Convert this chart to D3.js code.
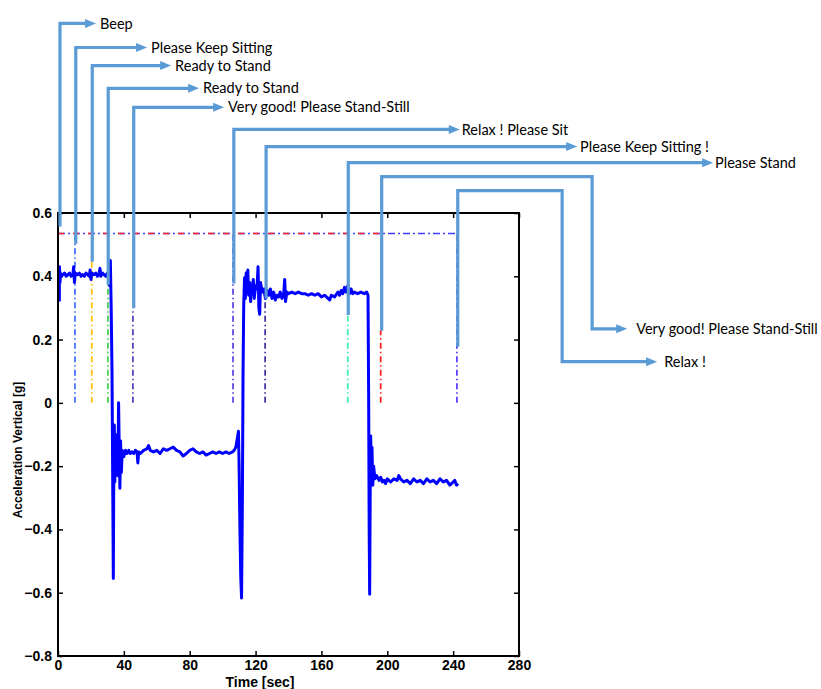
<!DOCTYPE html>
<html>
<head>
<meta charset="utf-8">
<script src="https://cdn.jsdelivr.net/npm/d3@7"></script>
<style>
  body { margin: 0; background: #fff; }
  svg { display: block; }
</style>
</head>
<body>
<div id="chart"></div>
<script>
// ---------------- DATA ----------------
const xTicks = [0, 40, 80, 120, 160, 200, 240, 280];
const yTicks = [-0.8, -0.6, -0.4, -0.2, 0, 0.2, 0.4, 0.6];
const xTitle = "Time [sec]";
const yTitle = "Acceleration Vertical [g]";

// vertical acceleration signal [time (s), value (g)]
const signalTime = [
  0.8,0.9,1.2,1.5,2,3,4,5,6,7,8,9,9.5,10,10.5,12,13,14,15,16,17,18,19,19.5,20,20.5,22,23,24,25,25.5,26,27,28,29,30,31,31.4,31.8,32.3,32.8,33.3,33.6,33.9,34.2,34.5,35,35.4,35.8,36.3,36.8,37.2,37.6,38,38.5,39,40,41,42,43,44,45,46,47,48,48.5,49,50,52,54,55,56,58,60,62,64,66,68,70,72,74,76,78,80,82,84,86,88,90,92,94,96,98,100,102,104,106,107,108,109,109.6,110,110.5,111,111.5,112,112.4,112.8,113.3,113.8,114.3,114.8,115.3,115.8,116.5,117,117.5,118,118.6,119.2,120,120.8,121.5,122,122.5,123,124,125,126,127,128,129,130,131,132,133,134,135,136,137,137.7,138.2,139,140,142,144,146,148,150,152,154,156,158,160,162,164,165,166,168,170,171,172,173,174,175,176,177,178,179,180,182,184,186,187.5,188.3,188.7,189,189.3,189.6,189.9,190.3,190.7,191.2,191.7,192.5,193.5,195,196,197,198,199,200,202,204,206,207,208,210,212,214,216,218,220,222,224,226,228,230,232,234,236,238,240,241,242,243
];
const signalValue = [
  0.32,0.43,0.38,0.41,0.40,0.405,0.41,0.40,0.405,0.41,0.40,0.405,0.43,0.38,0.41,0.405,0.41,0.40,0.405,0.40,0.41,0.405,0.40,0.42,0.39,0.41,0.405,0.41,0.40,0.41,0.425,0.40,0.41,0.405,0.40,0.41,0.40,0.37,0.45,0.30,0.10,-0.3,-0.555,-0.2,-0.07,-0.25,-0.10,-0.2,-0.13,-0.23,0.0,-0.15,-0.27,-0.12,-0.22,-0.15,-0.17,-0.15,-0.16,-0.15,-0.16,-0.155,-0.16,-0.15,-0.155,-0.19,-0.155,-0.16,-0.15,-0.145,-0.135,-0.15,-0.155,-0.15,-0.16,-0.145,-0.15,-0.145,-0.14,-0.15,-0.155,-0.168,-0.16,-0.15,-0.145,-0.155,-0.16,-0.155,-0.165,-0.16,-0.155,-0.16,-0.155,-0.16,-0.155,-0.16,-0.155,-0.15,-0.14,-0.11,-0.09,-0.2,-0.4,-0.55,-0.617,-0.3,0.1,0.31,0.395,0.33,0.41,0.35,0.42,0.34,0.38,0.32,0.37,0.35,0.39,0.33,0.37,0.36,0.43,0.30,0.28,0.38,0.35,0.36,0.33,0.355,0.34,0.36,0.33,0.35,0.325,0.34,0.335,0.35,0.33,0.34,0.39,0.32,0.35,0.345,0.35,0.345,0.35,0.345,0.345,0.34,0.345,0.34,0.345,0.335,0.34,0.33,0.325,0.34,0.335,0.35,0.34,0.355,0.345,0.365,0.35,0.37,0.345,0.36,0.345,0.35,0.345,0.35,0.345,0.35,0.34,0.0,-0.4,-0.605,-0.3,-0.105,-0.2,-0.14,-0.26,-0.2,-0.24,-0.23,-0.245,-0.235,-0.25,-0.245,-0.255,-0.24,-0.25,-0.24,-0.245,-0.23,-0.24,-0.25,-0.245,-0.255,-0.24,-0.25,-0.245,-0.255,-0.24,-0.25,-0.245,-0.255,-0.24,-0.25,-0.245,-0.26,-0.25,-0.245,-0.26,-0.255
];

// event markers (dash-dot vertical lines from 0 up)
const eventTime  = [10.3, 20.5, 30.3, 45.5, 106.3, 125.8, 176, 196, 242.3];
const eventTop   = [0.53, 0.45, 0.38, 0.30, 0.535, 0.33, 0.28, 0.23, 0.535];
const eventColor = ["#3d6bff", "#ffc000", "#3ccf4a", "#4a3cb8", "#5a3ee6", "#3a2e9e", "#36f0a8", "#ff1a1a", "#5533ff"];

// reference level line
const refLevel = 0.535;
const refBlueEnd = 242.3;
const refRedEnd = 196;

// callouts: label, time of vertical, bottom value, elbow level, (optional second vertical time, second level), arrow end time
const calloutLabel  = ["Beep", "Please Keep Sitting", "Ready to Stand", "Ready to Stand", "Very good! Please Stand-Still", "Relax ! Please Sit", "Please Keep Sitting !", "Please Stand", "Very good! Please Stand-Still", "Relax !"];
const calloutTime   = [1.2, 10.8, 20.8, 30.5, 46.0, 106.8, 126.4, 176.3, 196.6, 242.8];
const calloutBottom = [0.557, 0.503, 0.446, 0.373, 0.30, 0.377, 0.329, 0.278, 0.228, 0.177];
const calloutLevel  = [1.199, 1.123, 1.066, 0.994, 0.934, 0.864, 0.810, 0.759, 0.715, 0.671];
const calloutTime2  = [null, null, null, null, null, null, null, null, 324.4, 306.2];
const calloutLevel2 = [null, null, null, null, null, null, null, null, 0.234, 0.130];
const calloutEnd    = [23.1, 54.1, 68.7, 85.7, 100.9, 244.0, 315.3, 397.9, 345.7, 363.9];
const labelGap      = [4, 4, 4, 4, 4, 2, 3, 2, 9, 7];

// ---------------- CHART ----------------
const W = 821, H = 689;
const mLeft = 58, mRight = 519, mTop = 213, mBottom = 656;

const svg = d3.select("#chart").append("svg").attr("width", W).attr("height", H);

const x = d3.scaleLinear().domain([0, 280]).range([mLeft, mRight]);
const y = d3.scaleLinear().domain([-0.8, 0.6]).range([mBottom, mTop]);

const fmt = d => (d === 0 ? "0" : d3.format(".1f")(d));

// axes
const tickFont = "'Liberation Sans', Arial, sans-serif";
const gx = svg.append("g").attr("transform", `translate(0,${mBottom})`)
  .call(d3.axisBottom(x).tickValues(xTicks).tickSizeInner(-5).tickSizeOuter(0).tickPadding(4).tickFormat(d3.format("d")));
const gxTop = svg.append("g").attr("transform", `translate(0,${mTop})`)
  .call(d3.axisTop(x).tickValues(xTicks).tickSizeInner(-5).tickSizeOuter(0).tickFormat(""));
const gy = svg.append("g").attr("transform", `translate(${mLeft},0)`)
  .call(d3.axisLeft(y).tickValues(yTicks).tickSizeInner(-5).tickSizeOuter(0).tickPadding(6).tickFormat(fmt));
const gyR = svg.append("g").attr("transform", `translate(${mRight},0)`)
  .call(d3.axisRight(y).tickValues(yTicks).tickSizeInner(-5).tickSizeOuter(0).tickFormat(""));

[gx, gxTop, gy, gyR].forEach(g => {
  g.select(".domain").remove();
  g.selectAll(".tick line").attr("stroke", "#000").attr("stroke-width", 1.5);
  g.selectAll(".tick text").attr("font-family", tickFont).attr("font-weight", "bold")
    .attr("font-size", 14).attr("fill", "#000");
});

// horizontal reference lines
svg.append("line")
  .attr("x1", x(0)).attr("x2", x(refBlueEnd)).attr("y1", y(refLevel)).attr("y2", y(refLevel))
  .attr("stroke", "#3d3dff").attr("stroke-width", 1.5).attr("stroke-dasharray", "7,3,2,3");
svg.append("line")
  .attr("x1", x(0)).attr("x2", x(refRedEnd)).attr("y1", y(refLevel)).attr("y2", y(refLevel))
  .attr("stroke", "#ff2020").attr("stroke-width", 1.5).attr("stroke-dasharray", "6,9");

// event lines
eventTime.forEach((t, i) => {
  svg.append("line")
    .attr("x1", x(t)).attr("x2", x(t)).attr("y1", y(0)).attr("y2", y(eventTop[i]))
    .attr("stroke", eventColor[i]).attr("stroke-width", 1.7).attr("stroke-dasharray", "6,3,1.5,3");
});

// signal
const sig = signalTime.map((t, i) => [t, signalValue[i]]);
svg.append("path")
  .datum(sig)
  .attr("fill", "none").attr("stroke", "#0000ff").attr("stroke-width", 3).attr("stroke-linejoin", "round")
  .attr("d", d3.line().x(d => x(d[0])).y(d => y(d[1])));

// box
svg.append("rect").attr("x", mLeft).attr("y", mTop).attr("width", mRight - mLeft).attr("height", mBottom - mTop)
  .attr("fill", "none").attr("stroke", "#000").attr("stroke-width", 2);

// axis titles
svg.append("text").attr("x", 260).attr("y", 687).attr("text-anchor", "middle")
  .attr("font-family", tickFont).attr("font-weight", "bold").attr("font-size", 14).text(xTitle);
svg.append("text").attr("transform", `translate(22,450) rotate(-90)`).attr("text-anchor", "middle")
  .attr("font-family", tickFont).attr("font-weight", "bold").attr("font-size", 12).text(yTitle);

// callouts
const cc = "#5b9bd5";
calloutLabel.forEach((lab, i) => {
  const pts = [[x(calloutTime[i]), y(calloutBottom[i])], [x(calloutTime[i]), y(calloutLevel[i])]];
  let endY = y(calloutLevel[i]);
  if (calloutTime2[i] !== null) {
    pts.push([x(calloutTime2[i]), y(calloutLevel[i])]);
    pts.push([x(calloutTime2[i]), y(calloutLevel2[i])]);
    endY = y(calloutLevel2[i]);
  }
  const ex = x(calloutEnd[i]);
  pts.push([ex - 8, endY]);
  svg.append("path").attr("d", d3.line()(pts)).attr("fill", "none")
    .attr("stroke", cc).attr("stroke-width", 3.2).attr("stroke-linejoin", "miter");
  svg.append("path").attr("d", `M${ex},${endY} L${ex - 11},${endY - 4.5} L${ex - 11},${endY + 4.5} Z`).attr("fill", cc);
  svg.append("text").attr("x", ex + labelGap[i]).attr("y", endY).attr("dy", "0.35em")
    .attr("font-family", "Lato, 'Open Sans', sans-serif").attr("font-size", 14.5).attr("fill", "#000").text(lab);
});
</script>
</body>
</html>
